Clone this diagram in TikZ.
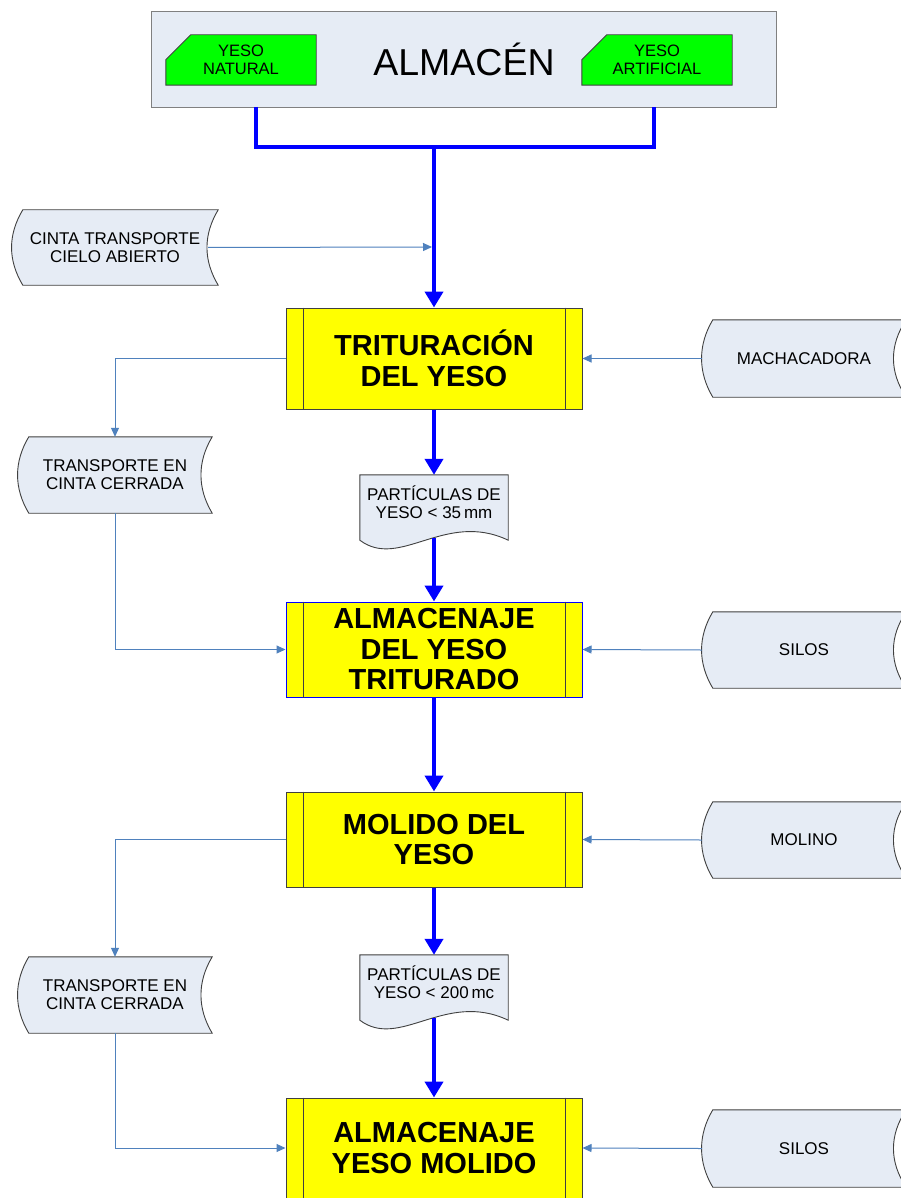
\documentclass[tikz,border=0pt]{standalone}
\usepackage{fontspec}
\setmainfont{Liberation Sans}
\usetikzlibrary{arrows.meta,backgrounds}

\definecolor{paleblue}{RGB}{230,236,245}
\definecolor{linkblue}{RGB}{79,129,189}
\definecolor{busblue}{RGB}{0,0,255}
\definecolor{procyellow}{RGB}{255,255,0}
\definecolor{stockgreen}{RGB}{0,255,0}
\definecolor{edgegray}{RGB}{64,64,64}

\tikzset{
  proc/.style={draw=edgegray, fill=procyellow, line width=1pt, minimum width=296pt,
    inner sep=0pt, align=center, text=black,
    font=\fontsize{29}{30.5}\selectfont\bfseries},
  stock/.style={minimum height=76pt, inner sep=0pt, align=center,
    font=\fontsize{17}{18}\selectfont},
  paper/.style={minimum width=148pt, minimum height=54pt, inner sep=0pt, align=center,
    font=\fontsize{17}{18}\selectfont},
  raw/.style={minimum width=150pt, minimum height=50pt, inner sep=0pt, align=center,
    font=\fontsize{16.5}{18}\selectfont},
  sdshape/.style={draw=edgegray, fill=paleblue, line width=0.9pt},
  grnshape/.style={draw=edgegray, fill=stockgreen, line width=0.9pt},
  storebox/.style={draw=gray, fill=paleblue, line width=1pt},
  bus/.style={draw=busblue, line width=4pt},
  flow/.style={draw=busblue, line width=4pt, -{Triangle[length=16pt,width=18pt]}},
  link/.style={draw=linkblue, line width=1pt, -{Triangle[length=9pt,width=8pt]}},
}

% stored-data outline: convex left side, concave right side
\newcommand\sdout[2]{%
  \filldraw[sdshape] ([xshift=11pt]#1.north west) -- (#1.north east)
    .. controls ([xshift=-#2pt,yshift=-25pt]#1.north east) and ([xshift=-#2pt,yshift=25pt]#1.south east) .. (#1.south east)
    -- ([xshift=11pt]#1.south west)
    .. controls ([xshift=-4pt,yshift=25pt]#1.south west) and ([xshift=-4pt,yshift=-25pt]#1.north west) .. ([xshift=11pt]#1.north west)
    -- cycle;}
% document outline with a wavy lower edge
\newcommand\docout[1]{%
  \filldraw[sdshape] (#1.north west) -- (#1.north east) -- ([yshift=-11pt]#1.south east)
    .. controls ([xshift=-63pt,yshift=19pt]#1.south east) and ([xshift=40pt,yshift=-41pt]#1.south west) .. ([yshift=-11pt]#1.south west)
    -- cycle;}
% stock card with a clipped upper-left corner
\newcommand\grnout[1]{%
  \filldraw[grnshape] ([xshift=25pt]#1.north west) -- (#1.north east) -- (#1.south east)
    -- (#1.south west) -- ([yshift=-25pt]#1.north west) -- cycle;}
% inner bars of a predefined-process box
\newcommand\procbars[1]{%
  \draw[edgegray, line width=1pt] ([xshift=18pt]#1.north west) -- ([xshift=18pt]#1.south west);
  \draw[edgegray, line width=1pt] ([xshift=-17pt]#1.north east) -- ([xshift=-17pt]#1.south east);}

\begin{document}
\begin{tikzpicture}[x=1pt,y=-1pt]
\useasboundingbox (0,0) rectangle (900,1198);

% warehouse
\node[minimum width=624pt, minimum height=95pt, inner sep=0pt,
      font=\fontsize{37.5}{40}\selectfont] (alm) at (464,59.5) {ALMACÉN};
\node[raw] (nat) at (241,60) {YESO\\NATURAL};
\node[raw] (art) at (657,60) {YESO\\ARTIFICIAL};

% process boxes
\node[proc, minimum height=101pt] (trit) at (434,358.5) {TRITURACIÓN\\DEL YESO};
\node[proc, draw=busblue, minimum height=95pt] (alm1) at (434,649.5) {ALMACENAJE\\DEL YESO\\TRITURADO};
\node[proc, minimum height=95pt] (mol) at (434,839.5) {MOLIDO DEL\\YESO};
\node[proc, minimum height=100pt] (alm2) at (434,1148) {ALMACENAJE\\YESO MOLIDO};
\procbars{trit}
\procbars{alm1}
\procbars{mol}
\procbars{alm2}

% intermediate products
\node[paper] (doc1) at (434,502) {PARTÍCULAS DE\\YESO < 35\,mm};
\node[paper] (doc2) at (434,982) {PARTÍCULAS DE\\YESO < 200\,mc};

% conveyors and equipment
\node[stock, minimum width=206pt, minimum height=75pt] (cinta) at (115,247.5) {CINTA TRANSPORTE\\CIELO ABIERTO};
\node[stock, minimum width=194pt] (tc1) at (115,475) {TRANSPORTE EN\\CINTA CERRADA};
\node[stock, minimum width=194pt] (tc2) at (115,995) {TRANSPORTE EN\\CINTA CERRADA};
\node[stock, minimum width=204pt, minimum height=77pt] (mach) at (804,358.5) {MACHACADORA};
\node[stock, minimum width=204pt] (silos1) at (804,650) {SILOS};
\node[stock, minimum width=204pt] (molino) at (804,840) {MOLINO};
\node[stock, minimum width=204pt, minimum height=77pt] (silos2) at (804,1148.5) {SILOS};

% main flow
\coordinate (bl) at (256,107);
\coordinate (br) at (654,107);
\coordinate (j1) at (434,147);
\coordinate (j2) at (432,247);
\draw[bus] (bl) |- (j1) -| (br);
\draw[flow] (j1) -- (trit.north);
\draw[flow] (trit.south) -- (doc1.north);
\draw[flow] ([yshift=-9pt]doc1.south) -- (alm1.north);
\draw[flow] (alm1.south) -- (mol.north);
\draw[flow] (mol.south) -- (doc2.north);
\draw[flow] ([yshift=-9pt]doc2.south) -- (alm2.north);

% auxiliary links
\draw[link] ([xshift=-10pt]cinta.east) -- (j2);
\draw[link] (trit.west) -| (tc1.north);
\draw[link] (tc1.south) |- (alm1.west);
\draw[link] (mol.west) -| (tc2.north);
\draw[link] (tc2.south) |- (alm2.west);
\draw[link] (mach.west) -- (trit.east);
\draw[link] (silos1.west) -- (alm1.east);
\draw[link] (molino.west) -- (mol.east);
\draw[link] (silos2.west) -- (alm2.east);

\begin{pgfonlayer}{background}
  \fill[white] (0,0) rectangle (900,1198);
  \draw[storebox] (alm.north west) rectangle (alm.south east);
  \grnout{nat}
  \grnout{art}
  \docout{doc1}
  \docout{doc2}
  \sdout{cinta}{15}
  \sdout{tc1}{15}
  \sdout{tc2}{15}
  \sdout{mach}{17}
  \sdout{silos1}{17}
  \sdout{molino}{17}
  \sdout{silos2}{17}
\end{pgfonlayer}
\end{tikzpicture}
\end{document}
